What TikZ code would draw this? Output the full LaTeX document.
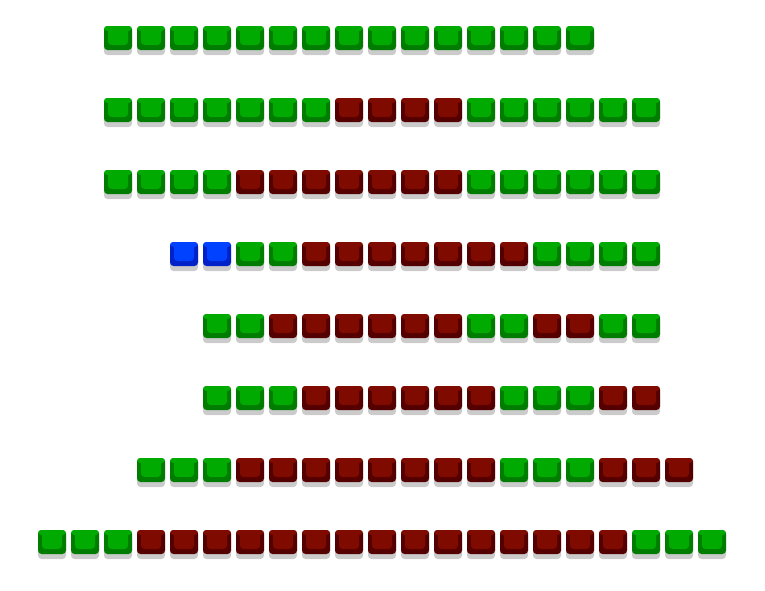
\documentclass[tikz,border=0pt]{standalone}
\usepackage{tikz}
\usetikzlibrary{shadows}

\definecolor{gface}{RGB}{0,170,0}
\definecolor{gside}{RGB}{0,125,0}
\definecolor{rface}{RGB}{127,10,0}
\definecolor{rside}{RGB}{85,0,0}
\definecolor{bface}{RGB}{0,66,255}
\definecolor{bside}{RGB}{0,34,200}

\tikzset{
  cell/.style 2 args={rectangle, rounded corners=3.5pt, fill=#2, draw=none,
    minimum width=28pt, minimum height=24pt, inner sep=0pt,
    drop shadow={shadow xshift=0pt, shadow yshift=-5pt, fill=black!45, opacity=.45},
    path picture={
      \fill[#1] ([xshift=4pt]path picture bounding box.north west)
        rectangle ([xshift=-4pt,yshift=5pt]path picture bounding box.south east);
      \fill[#1] (path picture bounding box.north west)
        rectangle ([yshift=-5pt]path picture bounding box.north east);
    }},
  cg/.style={cell={gface}{gside}},
  cr/.style={cell={rface}{rside}},
  cb/.style={cell={bface}{bside}}
}

\begin{document}
\begin{tikzpicture}[x=1pt, y=-1pt]
\useasboundingbox (0,0) rectangle (765,590);

% row / first column / cells
\foreach \r/\s/\seq in {
  1/2/{cg,cg,cg,cg,cg,cg,cg,cg,cg,cg,cg,cg,cg,cg,cg},
  2/2/{cg,cg,cg,cg,cg,cg,cg,cr,cr,cr,cr,cg,cg,cg,cg,cg,cg},
  3/2/{cg,cg,cg,cg,cr,cr,cr,cr,cr,cr,cr,cg,cg,cg,cg,cg,cg},
  4/4/{cb,cb,cg,cg,cr,cr,cr,cr,cr,cr,cr,cg,cg,cg,cg},
  5/5/{cg,cg,cr,cr,cr,cr,cr,cr,cg,cg,cr,cr,cg,cg},
  6/5/{cg,cg,cg,cr,cr,cr,cr,cr,cr,cg,cg,cg,cr,cr},
  7/3/{cg,cg,cg,cr,cr,cr,cr,cr,cr,cr,cr,cg,cg,cg,cr,cr,cr},
  8/0/{cg,cg,cg,cr,cr,cr,cr,cr,cr,cr,cr,cr,cr,cr,cr,cr,cr,cr,cg,cg,cg}}
{
  \foreach \c [count=\i from \s] in \seq {
    \node[\c] (cell-\r-\i) at ({52+33*\i}, {38+72*(\r-1)}) {};
  }
}
\end{tikzpicture}
\end{document}
